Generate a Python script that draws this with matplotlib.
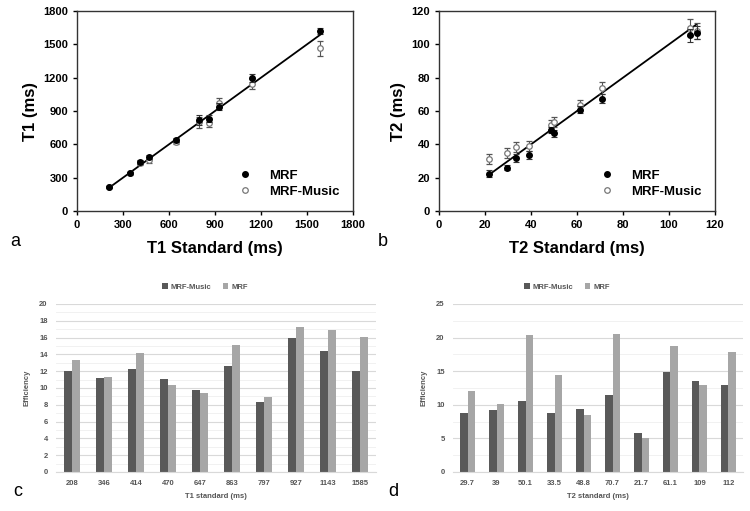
import numpy as np
import matplotlib
matplotlib.use("Agg")
import matplotlib.pyplot as plt
from matplotlib.lines import Line2D

# ---- data ----
t1_std = [208, 346, 414, 470, 647, 797, 863, 927, 1143, 1585]
t1_mrf = [216, 342, 440, 487, 637, 817, 830, 940, 1199, 1622]
t1_mrf_err = [10, 12, 15, 20, 20, 45, 30, 30, 35, 25]
t1_music = [216, 340, 433, 457, 625, 800, 793, 973, 1142, 1463]
t1_music_err = [10, 12, 15, 25, 25, 50, 35, 40, 45, 65]

t2_std = [21.7, 29.7, 33.5, 39, 48.8, 50.1, 61.1, 70.7, 109, 112]
t2_mrf = [22.5, 26, 32, 33.6, 48.6, 46.6, 60.7, 67.5, 105.5, 107]
t2_mrf_err = [2, 1.5, 2.5, 2.5, 2, 2, 2, 2.5, 4, 4]
t2_music = [31, 35, 38.6, 39, 51.7, 53.5, 63.5, 73.8, 110, 108]
t2_music_err = [3, 3, 3, 3, 3, 3, 3, 3.5, 5, 5]

c_labels = ["208", "346", "414", "470", "647", "863", "797", "927", "1143", "1585"]
c_music = [12.0, 11.2, 12.3, 11.1, 9.8, 12.6, 8.3, 16.0, 14.4, 12.0]
c_mrf = [13.3, 11.3, 14.2, 10.3, 9.4, 15.1, 8.9, 17.3, 16.9, 16.1]

d_labels = ["29.7", "39", "50.1", "33.5", "48.8", "70.7", "21.7", "61.1", "109", "112"]
d_music = [8.8, 9.3, 10.6, 8.8, 9.4, 11.5, 5.8, 14.9, 13.6, 12.9]
d_mrf = [12.0, 10.1, 20.4, 14.5, 8.5, 20.6, 5.0, 18.8, 13.0, 17.8]

plt.rcParams['font.family'] = ['Liberation Sans', 'DejaVu Sans']

fig = plt.figure(figsize=(7.5, 5.11), dpi=100)
W, H = 750, 511


def px_axes(left, top, right, bottom):
    return fig.add_axes([left / W, 1 - bottom / H, (right - left) / W, (bottom - top) / H])


def scatter_panel(ax, xs, mrf, mrf_err, music, music_err, lim, step, xlabel, ylabel):
    lo, hi = min(xs), max(xs)
    ax.plot([lo, hi], [lo, hi], color='black', lw=1.3, zorder=1)
    ax.errorbar(xs, music, yerr=music_err, fmt='o', ms=4, mfc='white', mec='#777777',
                mew=0.9, ecolor='#555555', elinewidth=0.8, capsize=2.5, capthick=0.8,
                zorder=2)
    ax.errorbar(xs, mrf, yerr=mrf_err, fmt='o', ms=4, mfc='black', mec='black',
                ecolor='#333333', elinewidth=0.8, capsize=2.5, capthick=0.8,
                zorder=3)
    ax.set_xlim(0, lim)
    ax.set_ylim(0, lim)
    ticks = np.arange(0, lim + step, step)
    ax.set_xticks(ticks)
    ax.set_yticks(ticks)
    ax.tick_params(labelsize=8, length=3, width=1)
    for lab in ax.get_xticklabels() + ax.get_yticklabels():
        lab.set_fontweight('bold')
    for s in ax.spines.values():
        s.set_linewidth(1.0)
        s.set_color('#333333')
    ax.set_xlabel(xlabel, fontsize=12, fontweight='bold', labelpad=8)
    ax.set_ylabel(ylabel, fontsize=12, fontweight='bold', labelpad=4)
    handles = [
        Line2D([], [], ls='none', marker='o', ms=4, mfc='black', mec='black'),
        Line2D([], [], ls='none', marker='o', ms=4, mfc='white', mec='#777777', mew=0.9),
    ]
    ax.legend(handles, ['MRF', 'MRF-Music'], loc='lower right', frameon=False,
              prop={'size': 9.5, 'weight': 'bold'}, handletextpad=0.8,
              bbox_to_anchor=(0.97, 0.04), borderaxespad=0, labelspacing=0.3)


def bar_panel(ax, labels, music, mrf, ymax, step, xlabel):
    x = np.arange(len(labels))
    w = 0.25
    ax.bar(x - w / 2, music, w, color='#595959', label='MRF-Music', zorder=2)
    ax.bar(x + w / 2, mrf, w, color='#a6a6a6', label='MRF', zorder=2)
    ax.set_xlim(-0.5, len(labels) - 0.5)
    ax.set_ylim(0, ymax)
    ax.set_yticks(np.arange(0, ymax + step, step))
    ax.set_xticks(x)
    ax.set_xticklabels(labels)
    ax.yaxis.grid(True, color='#d9d9d9', lw=0.8, zorder=0)
    for v in np.arange(step / 2, ymax, step):
        ax.axhline(v, color='#efefef', lw=0.6, zorder=0)
    for s in ['top', 'right', 'left']:
        ax.spines[s].set_visible(False)
    ax.spines['bottom'].set_color('#d9d9d9')
    ax.tick_params(length=0, labelsize=5.5, colors='#555555', pad=6)
    for lab in ax.get_xticklabels() + ax.get_yticklabels():
        lab.set_fontweight('bold')
    ax.set_xlabel(xlabel, fontsize=5.5, color='#555555', fontweight='bold', labelpad=4)
    ax.set_ylabel('Efficiency', fontsize=5.5, color='#555555', fontweight='bold', labelpad=6)


ax_a = px_axes(77, 11, 353, 211)
scatter_panel(ax_a, t1_std, t1_mrf, t1_mrf_err, t1_music, t1_music_err, 1800, 300,
              'T1 Standard (ms)', 'T1 (ms)')
ax_b = px_axes(439, 11, 715, 211)
scatter_panel(ax_b, t2_std, t2_mrf, t2_mrf_err, t2_music, t2_music_err, 120, 20,
              'T2 Standard (ms)', 'T2 (ms)')

ax_c = px_axes(56, 304, 376, 472)
bar_panel(ax_c, c_labels, c_music, c_mrf, 20, 2, 'T1 standard (ms)')
ax_d = px_axes(453, 304, 743, 472)
bar_panel(ax_d, d_labels, d_music, d_mrf, 25, 5, 'T2 standard (ms)')

for ax, cx in [(ax_c, 205), (ax_d, 567)]:
    ax.legend(loc='center', bbox_to_anchor=(cx / W, 1 - 287 / H),
              bbox_transform=fig.transFigure, ncol=2, frameon=False,
              prop={'size': 5.5, 'weight': 'bold'}, labelcolor='#555555',
              handlelength=0.7, handleheight=0.7, handletextpad=0.4, columnspacing=1.5)

for letter, x, y in [('a', 10, 246), ('b', 378, 246), ('c', 13, 496), ('d', 388, 496)]:
    fig.text(x / W, 1 - y / H, letter, fontsize=13, ha='left', va='baseline')

fig.savefig('out.png', dpi=100)
